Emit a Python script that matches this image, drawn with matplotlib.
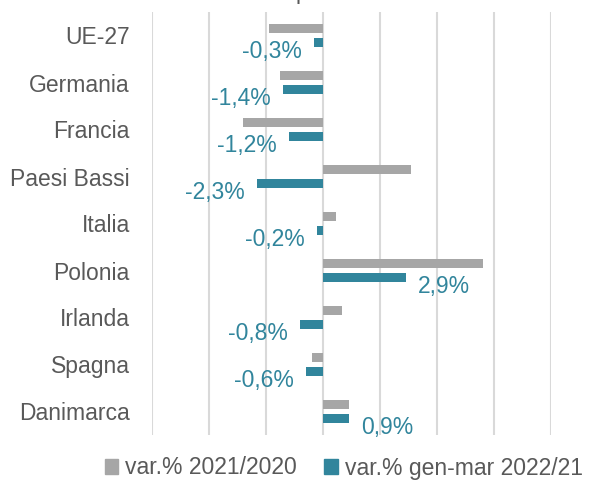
import matplotlib.pyplot as plt
from matplotlib.patches import Patch

plt.rcParams['font.family'] = ['Liberation Sans', 'DejaVu Sans']

countries = ["UE-27", "Germania", "Francia", "Paesi Bassi", "Italia",
             "Polonia", "Irlanda", "Spagna", "Danimarca"]
var_2021_2020 = [-1.9, -1.5, -2.8, 3.1, 0.45, 5.6, 0.65, -0.4, 0.9]
var_genmar_2022_21 = [-0.3, -1.4, -1.2, -2.3, -0.2, 2.9, -0.8, -0.6, 0.9]
legend_labels = ["var.% 2021/2020", "var.% gen-mar 2022/21"]

GREY = "#A6A6A6"
TEAL = "#31859C"
TEXT = "#595959"

W, H = 601, 483
fig = plt.figure(figsize=(W / 100, H / 100), dpi=100)
ax = fig.add_axes([152 / W, (H - 435) / H, (551 - 152) / W, (435 - 12) / H])

ypos = list(range(len(countries)))
off = 0.144
bh = 0.2
ax.barh([y - off for y in ypos], var_2021_2020, height=bh, color=GREY)
ax.barh([y + off for y in ypos], var_genmar_2022_21, height=bh, color=TEAL)

# data labels for the teal series only
for y, v in zip(ypos, var_genmar_2022_21):
    txt = f"{v:.1f}".replace(".", ",") + "%"
    dx = -9 if v < 0 else 9
    ax.annotate(txt, (v, y + off), xytext=(dx, -7), textcoords="offset points",
                ha="right" if v < 0 else "left", va="center",
                color=TEAL, fontsize=16.5)

ax.set_xlim(-6, 8)
ax.set_ylim(len(countries) - 0.5, -0.5)
ax.set_xticks(range(-6, 9, 2))
ax.set_xticklabels([])
ax.set_yticks(ypos)
ax.set_yticklabels(countries, fontsize=16.5, color=TEXT)
ax.tick_params(axis="both", length=0)
ax.tick_params(axis="y", pad=16)
ax.grid(axis="x", color="#D9D9D9", linewidth=1.5)
ax.set_axisbelow(True)
for s in ax.spines.values():
    s.set_visible(False)

# title is cut off at the top of the image (only its lower edge shows)
fig.text(334 / W, 1 + 1 / H, "peso %", ha="center", va="baseline",
         fontsize=16.5, color=TEXT)

handles = [Patch(color=GREY), Patch(color=TEAL)]
fig.legend(handles, legend_labels, loc="center", bbox_to_anchor=(0.572, 15 / H),
           ncol=2, frameon=False, fontsize=16.5, handlelength=0.6,
           handleheight=0.6, handletextpad=0.3, columnspacing=1.2,
           labelcolor=TEXT)

fig.savefig("out.png", dpi=100)
